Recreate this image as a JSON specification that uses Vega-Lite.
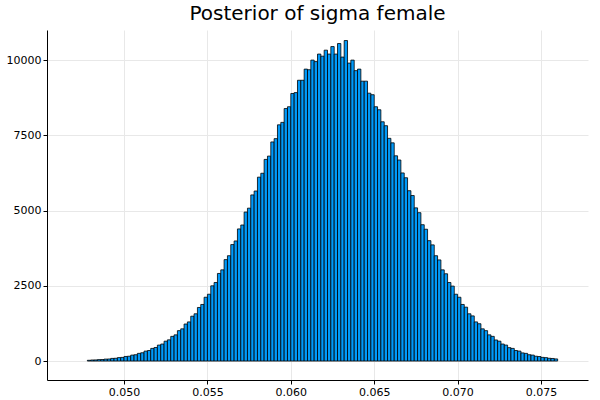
{
  "$schema": "https://vega.github.io/schema/vega-lite/v6.json",
  "width": 541,
  "height": 350,
  "autosize": "none",
  "padding": {"left": 47, "top": 30, "right": 12, "bottom": 20},
  "background": "white",
  "title": {"text": "Posterior of sigma female", "fontSize": 20, "fontWeight": "normal", "font": "DejaVu Sans", "color": "black", "offset": 6},
  "config": {"view": {"stroke": null}},
  "data": {"values": [
    {"a":0.0478,"b":0.0480,"n":25},{"a":0.0480,"b":0.0482,"n":35},{"a":0.0482,"b":0.0484,"n":37},{"a":0.0484,"b":0.0486,"n":48},
    {"a":0.0486,"b":0.0488,"n":50},{"a":0.0488,"b":0.0490,"n":64},{"a":0.0490,"b":0.0492,"n":68},{"a":0.0492,"b":0.0494,"n":88},
    {"a":0.0494,"b":0.0496,"n":92},{"a":0.0496,"b":0.0498,"n":115},{"a":0.0498,"b":0.0500,"n":121},{"a":0.0500,"b":0.0502,"n":152},
    {"a":0.0502,"b":0.0504,"n":160},{"a":0.0504,"b":0.0506,"n":198},{"a":0.0506,"b":0.0508,"n":210},{"a":0.0508,"b":0.0510,"n":255},
    {"a":0.0510,"b":0.0512,"n":275},{"a":0.0512,"b":0.0514,"n":330},{"a":0.0514,"b":0.0516,"n":350},{"a":0.0516,"b":0.0518,"n":420},
    {"a":0.0518,"b":0.0520,"n":450},{"a":0.0520,"b":0.0522,"n":530},{"a":0.0522,"b":0.0524,"n":565},{"a":0.0524,"b":0.0526,"n":660},
    {"a":0.0526,"b":0.0528,"n":705},{"a":0.0528,"b":0.0530,"n":820},{"a":0.0530,"b":0.0532,"n":870},{"a":0.0532,"b":0.0534,"n":1010},
    {"a":0.0534,"b":0.0536,"n":1070},{"a":0.0536,"b":0.0538,"n":1230},{"a":0.0538,"b":0.0540,"n":1300},{"a":0.0540,"b":0.0542,"n":1490},
    {"a":0.0542,"b":0.0544,"n":1570},{"a":0.0544,"b":0.0546,"n":1780},{"a":0.0546,"b":0.0548,"n":1880},{"a":0.0548,"b":0.0550,"n":2120},
    {"a":0.0550,"b":0.0552,"n":2220},{"a":0.0552,"b":0.0554,"n":2500},{"a":0.0554,"b":0.0556,"n":2610},{"a":0.0556,"b":0.0558,"n":2910},
    {"a":0.0558,"b":0.0560,"n":3030},{"a":0.0560,"b":0.0562,"n":3370},{"a":0.0562,"b":0.0564,"n":3500},{"a":0.0564,"b":0.0566,"n":3870},
    {"a":0.0566,"b":0.0568,"n":3990},{"a":0.0568,"b":0.0570,"n":4390},{"a":0.0570,"b":0.0572,"n":4520},{"a":0.0572,"b":0.0574,"n":4950},
    {"a":0.0574,"b":0.0576,"n":5080},{"a":0.0576,"b":0.0578,"n":5520},{"a":0.0578,"b":0.0580,"n":5650},{"a":0.0580,"b":0.0582,"n":6110},
    {"a":0.0582,"b":0.0584,"n":6240},{"a":0.0584,"b":0.0586,"n":6700},{"a":0.0586,"b":0.0588,"n":6810},{"a":0.0588,"b":0.0590,"n":7280},
    {"a":0.0590,"b":0.0592,"n":7390},{"a":0.0592,"b":0.0594,"n":7850},{"a":0.0594,"b":0.0596,"n":7930},{"a":0.0596,"b":0.0598,"n":8390},
    {"a":0.0598,"b":0.0600,"n":8450},{"a":0.0600,"b":0.0602,"n":8890},{"a":0.0602,"b":0.0604,"n":8920},{"a":0.0604,"b":0.0606,"n":9330},
    {"a":0.0606,"b":0.0608,"n":9330},{"a":0.0608,"b":0.0610,"n":9700},{"a":0.0610,"b":0.0612,"n":9680},{"a":0.0612,"b":0.0614,"n":10000},
    {"a":0.0614,"b":0.0616,"n":9950},{"a":0.0616,"b":0.0618,"n":10200},{"a":0.0618,"b":0.0620,"n":10130},{"a":0.0620,"b":0.0622,"n":10330},
    {"a":0.0622,"b":0.0624,"n":10200},{"a":0.0624,"b":0.0626,"n":10450},{"a":0.0626,"b":0.0628,"n":10200},{"a":0.0628,"b":0.0630,"n":10550},
    {"a":0.0630,"b":0.0632,"n":10100},{"a":0.0632,"b":0.0634,"n":10650},{"a":0.0634,"b":0.0636,"n":9900},{"a":0.0636,"b":0.0638,"n":10000},
    {"a":0.0638,"b":0.0640,"n":9650},{"a":0.0640,"b":0.0642,"n":9700},{"a":0.0642,"b":0.0644,"n":9300},{"a":0.0644,"b":0.0646,"n":9300},
    {"a":0.0646,"b":0.0648,"n":8900},{"a":0.0648,"b":0.0650,"n":8850},{"a":0.0650,"b":0.0652,"n":8450},{"a":0.0652,"b":0.0654,"n":8350},
    {"a":0.0654,"b":0.0656,"n":7950},{"a":0.0656,"b":0.0658,"n":7820},{"a":0.0658,"b":0.0660,"n":7400},{"a":0.0660,"b":0.0662,"n":7250},
    {"a":0.0662,"b":0.0664,"n":6820},{"a":0.0664,"b":0.0666,"n":6680},{"a":0.0666,"b":0.0668,"n":6250},{"a":0.0668,"b":0.0670,"n":6090},
    {"a":0.0670,"b":0.0672,"n":5660},{"a":0.0672,"b":0.0674,"n":5500},{"a":0.0674,"b":0.0676,"n":5090},{"a":0.0676,"b":0.0678,"n":4930},
    {"a":0.0678,"b":0.0680,"n":4530},{"a":0.0680,"b":0.0682,"n":4380},{"a":0.0682,"b":0.0684,"n":4000},{"a":0.0684,"b":0.0686,"n":3860},
    {"a":0.0686,"b":0.0688,"n":3500},{"a":0.0688,"b":0.0690,"n":3360},{"a":0.0690,"b":0.0692,"n":3030},{"a":0.0692,"b":0.0694,"n":2900},
    {"a":0.0694,"b":0.0696,"n":2610},{"a":0.0696,"b":0.0698,"n":2490},{"a":0.0698,"b":0.0700,"n":2220},{"a":0.0700,"b":0.0702,"n":2120},
    {"a":0.0702,"b":0.0704,"n":1880},{"a":0.0704,"b":0.0706,"n":1790},{"a":0.0706,"b":0.0708,"n":1570},{"a":0.0708,"b":0.0710,"n":1500},
    {"a":0.0710,"b":0.0712,"n":1300},{"a":0.0712,"b":0.0714,"n":1240},{"a":0.0714,"b":0.0716,"n":1070},{"a":0.0716,"b":0.0718,"n":1010},
    {"a":0.0718,"b":0.0720,"n":870},{"a":0.0720,"b":0.0722,"n":820},{"a":0.0722,"b":0.0724,"n":700},{"a":0.0724,"b":0.0726,"n":660},
    {"a":0.0726,"b":0.0728,"n":565},{"a":0.0728,"b":0.0730,"n":530},{"a":0.0730,"b":0.0732,"n":445},{"a":0.0732,"b":0.0734,"n":420},
    {"a":0.0734,"b":0.0736,"n":350},{"a":0.0736,"b":0.0738,"n":330},{"a":0.0738,"b":0.0740,"n":270},{"a":0.0740,"b":0.0742,"n":255},
    {"a":0.0742,"b":0.0744,"n":210},{"a":0.0744,"b":0.0746,"n":198},{"a":0.0746,"b":0.0748,"n":160},{"a":0.0748,"b":0.0750,"n":150},
    {"a":0.0750,"b":0.0752,"n":122},{"a":0.0752,"b":0.0754,"n":113},{"a":0.0754,"b":0.0756,"n":92},{"a":0.0756,"b":0.0758,"n":85},
    {"a":0.0758,"b":0.0760,"n":70}
  ]},
  "mark": {"type": "bar", "fill": "#009AFA", "stroke": "black", "strokeWidth": 0.8},
  "encoding": {
    "x": {"field": "a", "type": "quantitative", "title": null,
      "scale": {"domain": [0.04538, 0.07782], "nice": false, "zero": false},
      "axis": {"values": [0.05, 0.055, 0.06, 0.065, 0.07, 0.075], "format": ".3f", "labelFontSize": 11, "labelColor": "black", "domainColor": "black", "tickColor": "black", "tickSize": 4, "gridColor": "#e8e8e8", "labelFont": "DejaVu Sans"}},
    "x2": {"field": "b"},
    "y": {"field": "n", "type": "quantitative", "title": null,
      "scale": {"domain": [-630, 11000], "nice": false, "zero": false},
      "axis": {"values": [0, 2500, 5000, 7500, 10000], "format": "d", "labelFontSize": 11, "labelColor": "black", "domainColor": "black", "tickColor": "black", "tickSize": 4, "gridColor": "#e8e8e8", "labelFont": "DejaVu Sans"}},
    "y2": {"datum": 0}
  }
}
